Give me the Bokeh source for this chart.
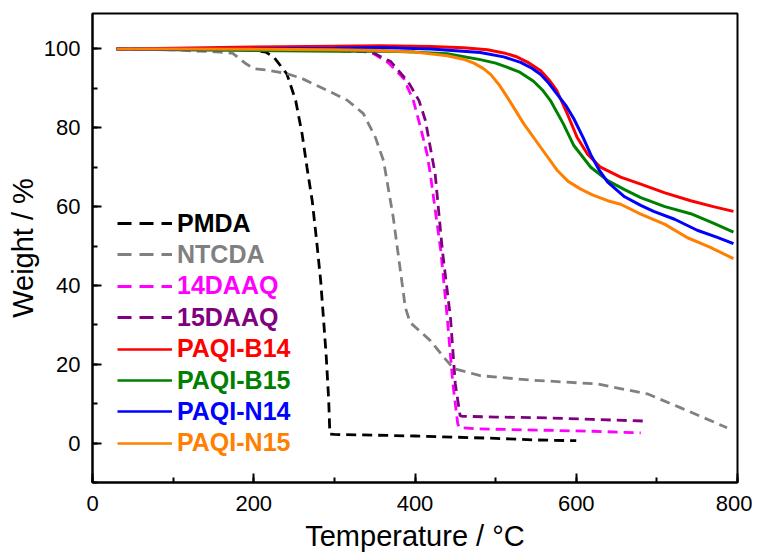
from bokeh.plotting import figure
from bokeh.models import Legend, LegendItem, SingleIntervalTicker, Range1d
from bokeh.embed import file_html
from bokeh.resources import INLINE

# ---- data ----
names = ["PMDA", "NTCDA", "14DAAQ", "15DAAQ", "PAQI-B14", "PAQI-B15", "PAQI-N14", "PAQI-N15"]
colors = ["#000000", "#808080", "#FF00FF", "#800080", "#FF0000", "#008000", "#0000FF", "#FF8000"]
dashed = [True, True, True, True, False, False, False, False]

t_pmda = [30, 100, 150, 200, 215, 225, 241, 252, 260, 266, 272.5, 278, 283, 287, 290, 293, 294.4, 300, 350, 400, 450, 500, 550, 600]
w_pmda = [100, 100, 100, 99.7, 99.2, 97.9, 93.7, 86.9, 78.4, 70, 61.5, 51.3, 41.2, 30.2, 21.7, 10.7, 2.3, 2.2, 2.0, 1.8, 1.5, 1.2, 0.8, 0.6]

t_ntcda = [30, 100, 124, 150, 174, 190, 200, 215, 240, 260, 291, 316, 336, 351, 361, 373, 388, 394, 419, 436, 448, 481, 543, 626, 688, 729, 787]
w_ntcda = [100, 99.8, 99.5, 99.3, 98.9, 96.3, 95.0, 94.7, 93.8, 92.5, 89.5, 87.0, 83.6, 77.5, 71.6, 57.3, 34.4, 30.6, 26.0, 21.7, 18.9, 17.1, 16.0, 15.0, 12.5, 9.0, 3.9]

t_14daaq = [30, 100, 200, 300, 340, 349, 367, 386, 398, 407, 415, 419, 432, 440, 447, 453, 455, 480, 550, 620, 680]
w_14daaq = [100, 99.9, 99.8, 99.6, 99.3, 98.8, 96.5, 92.5, 86.9, 80.0, 73.3, 68.3, 48.8, 31.8, 15.0, 4.9, 3.9, 3.6, 3.3, 3.0, 2.6]

t_15daaq = [30, 100, 200, 300, 345, 370, 392, 405, 413, 419, 425, 434, 444, 450, 456, 460, 500, 564, 620, 684]
w_15daaq = [100, 99.9, 99.8, 99.6, 99.3, 96.8, 91.5, 86.9, 81.8, 75.0, 68.3, 48.8, 31.8, 15.0, 6.9, 6.8, 6.6, 6.4, 6.0, 5.6]

t_b14 = [30, 100, 200, 300, 357, 420, 460, 490, 510, 525, 540, 556, 566, 576, 589, 601, 614, 630, 655, 680, 710, 742, 770, 795]
w_b14 = [100, 100.2, 100.5, 100.7, 100.8, 100.6, 100.3, 99.8, 99.0, 98.1, 96.6, 94.5, 92.2, 89.4, 83.5, 77.6, 73.3, 70.0, 67.5, 65.7, 63.5, 61.5, 60.0, 58.8]

t_b15 = [30, 100, 200, 300, 357, 400, 440, 481, 500, 514, 530, 547, 558, 568, 584, 597, 618, 639, 660, 680, 710, 742, 770, 795]
w_b15 = [100, 99.8, 99.6, 99.4, 99.5, 99.2, 98.8, 97.3, 96.4, 95.4, 94.1, 91.8, 89.6, 86.9, 81.0, 75.5, 70.0, 66.6, 64.3, 62.3, 60.0, 58.2, 55.8, 53.5]

t_n14 = [30, 100, 200, 300, 357, 420, 481, 510, 531, 545, 556, 566, 576, 587, 597, 609, 618, 628, 639, 660, 680, 696, 722, 750, 775, 795]
w_n14 = [100, 99.9, 100, 100.2, 100.4, 100.0, 99.1, 98.0, 96.6, 95.1, 93.5, 91.3, 88.6, 85.7, 82.3, 77.3, 73.2, 69.4, 66.2, 62.5, 60.3, 58.8, 56.8, 54.0, 52.2, 50.6]

t_n15 = [30, 100, 200, 300, 357, 400, 440, 460, 473, 485, 494, 504, 514, 535, 556, 576, 590, 605, 620, 639, 655, 680, 710, 738, 765, 795]
w_n15 = [100, 100, 99.9, 99.8, 99.6, 99.2, 98.3, 97.4, 96.4, 95.0, 93.5, 91.0, 87.9, 81.0, 75.0, 69.3, 66.4, 64.5, 63.0, 61.5, 60.6, 58.1, 55.5, 52.1, 49.8, 46.8]

series_t = [t_pmda, t_ntcda, t_14daaq, t_15daaq, t_b14, t_b15, t_n14, t_n15]
series_w = [w_pmda, w_ntcda, w_14daaq, w_15daaq, w_b14, w_b15, w_n14, w_n15]

FONT = "Liberation Sans"

p = figure(frame_width=645, frame_height=469,
           x_range=Range1d(0, 800), y_range=Range1d(-10, 109),
           output_backend="svg", toolbar_location=None,
           min_border_left=92, min_border_right=15,
           min_border_top=13, min_border_bottom=70)
p.grid.visible = False
p.outline_line_color = "black"
p.outline_line_width = 2
p.background_fill_color = "white"

p.xaxis.ticker = SingleIntervalTicker(interval=200, num_minor_ticks=2)
p.yaxis.ticker = SingleIntervalTicker(interval=20, num_minor_ticks=2)
for ax in (p.xaxis, p.yaxis):
    ax.axis_line_width = 2
    ax.major_tick_line_width = 2
    ax.minor_tick_line_width = 2
    ax.major_tick_in = 9
    ax.major_tick_out = 0
    ax.minor_tick_in = 5
    ax.minor_tick_out = 0
    ax.major_label_text_font = FONT
    ax.major_label_text_font_size = "22px"
    ax.major_label_text_color = "black"
    ax.axis_label_text_font = FONT
    ax.axis_label_text_font_size = "29px"
    ax.axis_label_text_font_style = "normal"
    ax.axis_label_text_color = "black"
p.xaxis.major_label_standoff = 13
p.yaxis.major_label_standoff = 12
p.xaxis.axis_label = "Temperature / °C"
p.yaxis.axis_label = "Weight / %"
p.xaxis.axis_label_standoff = 6
p.yaxis.axis_label_standoff = 2

# main curves, plus hidden twins used only as legend samples
legend_renderers = []
for t, w, c, d in zip(series_t, series_w, colors, dashed):
    if d:
        p.line(t, w, line_color=c, line_width=2.8, line_dash="10 6")
        r = p.line(t, w, line_color=c, line_width=2.8, line_dash="14 8")
    else:
        p.line(t, w, line_color=c, line_width=3)
        r = p.line(t, w, line_color=c, line_width=2.5)
    r.visible = False
    legend_renderers.append(r)

# legends: one per entry so each label gets its own colour
LEG_X = 25        # px from frame left
LEG_TOP = 259     # px from frame bottom to first row centre
LEG_STEP = 31.4
ROW_H = 30
for i, (n, c, r) in enumerate(zip(names, colors, legend_renderers)):
    yc = LEG_TOP - i * LEG_STEP
    leg = Legend(items=[LegendItem(label=n, renderers=[r])],
                 location=(LEG_X, yc - ROW_H / 2),
                 label_text_color=c, label_text_font=FONT,
                 label_text_font_style="bold", label_text_font_size="25px",
                 glyph_width=55, glyph_height=ROW_H, label_height=ROW_H,
                 label_standoff=5, padding=0, margin=0, spacing=0,
                 border_line_color=None, background_fill_alpha=0,
                 inactive_fill_alpha=0)
    p.add_layout(leg)

open("out.html", "w").write(file_html(p, INLINE))
